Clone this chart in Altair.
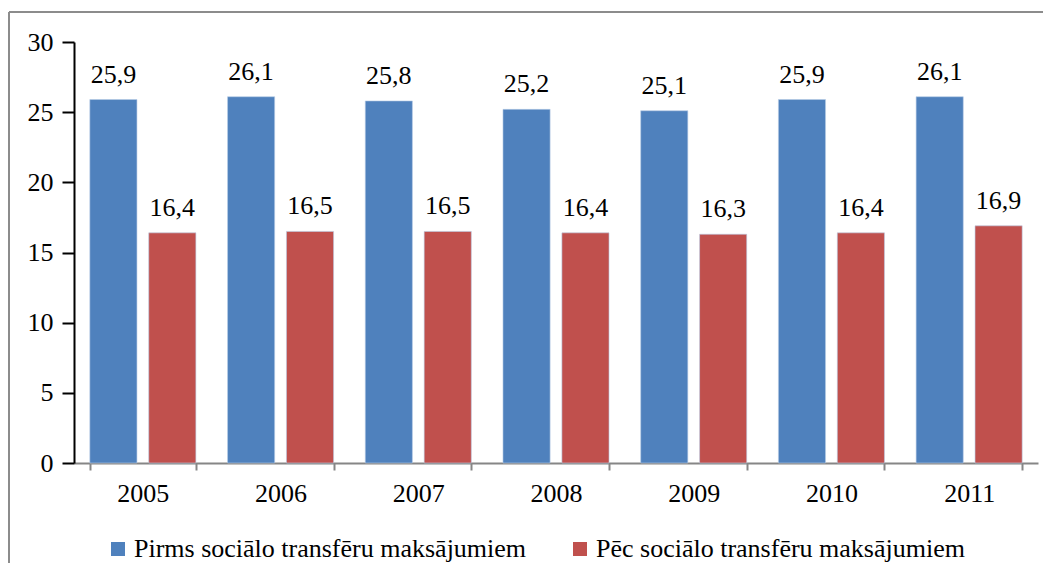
import altair as alt
import pandas as pd

years = ["2005", "2006", "2007", "2008", "2009", "2010", "2011"]
before = [25.9, 26.1, 25.8, 25.2, 25.1, 25.9, 26.1]
after = [16.4, 16.5, 16.5, 16.4, 16.3, 16.4, 16.9]
series = ["Pirms sociālo transfēru maksājumiem", "Pēc sociālo transfēru maksājumiem"]
colors = ["#4F81BD", "#C0504D"]

rows = []
for y, b, a in zip(years, before, after):
    rows.append({"year": y, "series": series[0], "value": b})
    rows.append({"year": y, "series": series[1], "value": a})
df = pd.DataFrame(rows)

FONT = "Liberation Serif, Times New Roman, serif"
FS = 26
W, H = 964, 421

x_enc = alt.X("year:N", sort=years, title=None,
              scale=alt.Scale(paddingInner=0.23, paddingOuter=0.115),
              axis=alt.Axis(labelAngle=0, labelFontSize=FS, labelFont=FONT, labelColor="black",
                            labelPadding=10, tickBand="extent", tickSize=7, tickColor="#868686",
                            domainColor="#868686", domainWidth=2, tickWidth=2))
xoff = alt.XOffset("series:N", sort=series, scale=alt.Scale(paddingInner=0.2))
y_enc = alt.Y("value:Q", title=None,
              scale=alt.Scale(domain=[0, 30], nice=False),
              axis=alt.Axis(values=[0, 5, 10, 15, 20, 25, 30], grid=False, labelFontSize=FS,
                            labelFont=FONT, labelColor="black", tickSize=12, tickColor="black",
                            domainColor="black", domainWidth=2, tickWidth=2, labelPadding=9))

base = alt.Chart(df).encode(x=x_enc, xOffset=xoff)

bars = base.mark_bar(stroke="#b9cde5", strokeWidth=0.6).encode(
    y=y_enc,
    color=alt.Color("series:N", sort=series,
                    scale=alt.Scale(domain=series, range=colors),
                    legend=alt.Legend(title=None, orient="none", direction="horizontal",
                                      legendX=31, legendY=494, symbolType="square",
                                      symbolSize=196, symbolStrokeWidth=0,
                                      labelFontSize=FS, labelFont=FONT, labelColor="black",
                                      labelLimit=600, columnPadding=40, labelOffset=3)),
)

labels = base.transform_calculate(
    lab="replace(format(datum.value, '.1f'), '.', ',')"
).mark_text(baseline="alphabetic", dy=-17, fontSize=FS, font=FONT, color="black").encode(
    y=alt.Y("value:Q", scale=alt.Scale(domain=[0, 30], nice=False)),
    text="lab:N",
)

one = pd.DataFrame({"k": [0]})
top_line = alt.Chart(one).mark_rule(stroke="#8c8c8c", strokeWidth=2).encode(
    x=alt.value(-65), x2=alt.value(1200), y=alt.value(-30))
left_line = alt.Chart(one).mark_rule(stroke="#8c8c8c", strokeWidth=2).encode(
    x=alt.value(-65), y=alt.value(-30), y2=alt.value(800))

chart = alt.layer(top_line, left_line, bars, labels).properties(
    width=W, height=H,
    autosize=alt.AutoSizeParams(type="none"),
    padding={"left": 66, "top": 34, "right": 5, "bottom": 100},
).configure(background="white", font=FONT).configure_view(stroke="transparent", strokeWidth=0)

chart.save("out.html", embed_options={"renderer": "svg", "actions": False})
